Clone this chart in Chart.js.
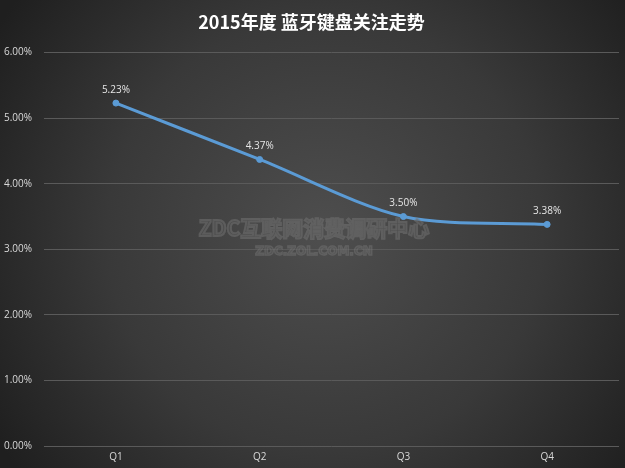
<!DOCTYPE html>
<html>
<head>
<meta charset="utf-8">
<script src="https://cdn.jsdelivr.net/npm/chart.js@4"></script>
<style>
html,body{margin:0;padding:0;background:#2a2a2a;}
canvas{display:block;}
</style>
</head>
<body>
<canvas id="c" width="625" height="468"></canvas>
<script>
const titleText = "2015年度 蓝牙键盘关注走势";
const categories = ["Q1", "Q2", "Q3", "Q4"];
const attention = [5.23, 4.37, 3.50, 3.38];
const yTicks = [0, 1, 2, 3, 4, 5, 6];
const watermark = ["ZDC互联网消费调研中心", "ZDC.ZOL.COM.CN"];

const bgPlugin = {
  id: 'bg',
  beforeDraw(chart) {
    const ctx = chart.ctx, w = chart.width, h = chart.height;
    ctx.save();
    const g = ctx.createRadialGradient(w * 0.52, h * 0.5, 10, w * 0.52, h * 0.5, w * 0.62);
    g.addColorStop(0, '#4d4d4d');
    g.addColorStop(0.55, '#393939');
    g.addColorStop(1, '#1f1f1f');
    ctx.fillStyle = g;
    ctx.fillRect(0, 0, w, h);
    ctx.restore();
  }
};

const watermarkPlugin = {
  id: 'wm',
  afterDraw(chart) {
    const ctx = chart.ctx;
    ctx.save();
    ctx.textAlign = 'center';
    ctx.textBaseline = 'middle';
    ctx.font = 'bold 21px "Noto Sans CJK SC", sans-serif';
    ctx.lineWidth = 2;
    ctx.strokeStyle = 'rgba(125,125,125,0.45)';
    ctx.fillStyle = 'rgba(95,95,95,0.38)';
    ctx.strokeText(watermark[0], 314, 228);
    ctx.fillText(watermark[0], 314, 228);
    ctx.font = 'bold 12px "DejaVu Sans", sans-serif';
    ctx.lineWidth = 1.5;
    ctx.strokeText(watermark[1], 314, 252);
    ctx.fillText(watermark[1], 314, 252);
    ctx.restore();
  }
};

const labelPlugin = {
  id: 'dl',
  afterDatasetsDraw(chart) {
    const ctx = chart.ctx;
    const meta = chart.getDatasetMeta(0);
    ctx.save();
    ctx.font = '10px "Open Sans", "DejaVu Sans", sans-serif';
    ctx.fillStyle = '#e6e6e6';
    ctx.textAlign = 'center';
    ctx.textBaseline = 'bottom';
    meta.data.forEach((pt, i) => {
      ctx.fillText(attention[i].toFixed(2) + '%', pt.x, pt.y - 8);
    });
    ctx.restore();
  }
};

new Chart(document.getElementById('c'), {
  type: 'line',
  data: {
    labels: categories,
    datasets: [{
      data: attention,
      borderColor: '#5b9bd5',
      backgroundColor: '#5b9bd5',
      borderWidth: 3,
      pointRadius: 3,
      pointBorderWidth: 1,
      pointHoverRadius: 3,
      pointBackgroundColor: '#5b9bd5',
      pointBorderColor: '#5b9bd5',
      tension: 0.3,
      fill: false
    }]
  },
  options: {
    responsive: false,
    animation: false,
    events: [],
    layout: { padding: { left: 4, right: 6, top: 0, bottom: 0 } },
    plugins: {
      legend: { display: false },
      tooltip: { enabled: false },
      title: {
        display: true,
        text: titleText,
        color: '#ffffff',
        font: { family: '"Noto Sans CJK SC", sans-serif', size: 18, weight: 'bold' },
        padding: { top: 11, bottom: 20 }
      }
    },
    scales: {
      x: {
        offset: true,
        grid: { display: false, drawTicks: false },
        border: { display: false },
        ticks: { color: '#d9d9d9', font: { family: '"Open Sans", sans-serif', size: 10 }, padding: 5 }
      },
      y: {
        min: 0,
        max: 6,
        afterBuildTicks(axis) { axis.ticks = yTicks.map(v => ({ value: v })); },
        grid: { color: '#5a5a5a', lineWidth: 1, drawTicks: false },
        border: { display: false },
        ticks: {
          color: '#d9d9d9',
          font: { family: '"Open Sans", sans-serif', size: 10 },
          padding: 6,
          crossAlign: 'far',
          callback: v => v.toFixed(2) + '%'
        }
      }
    }
  },
  plugins: [bgPlugin, labelPlugin, watermarkPlugin]
});
</script>
</body>
</html>
